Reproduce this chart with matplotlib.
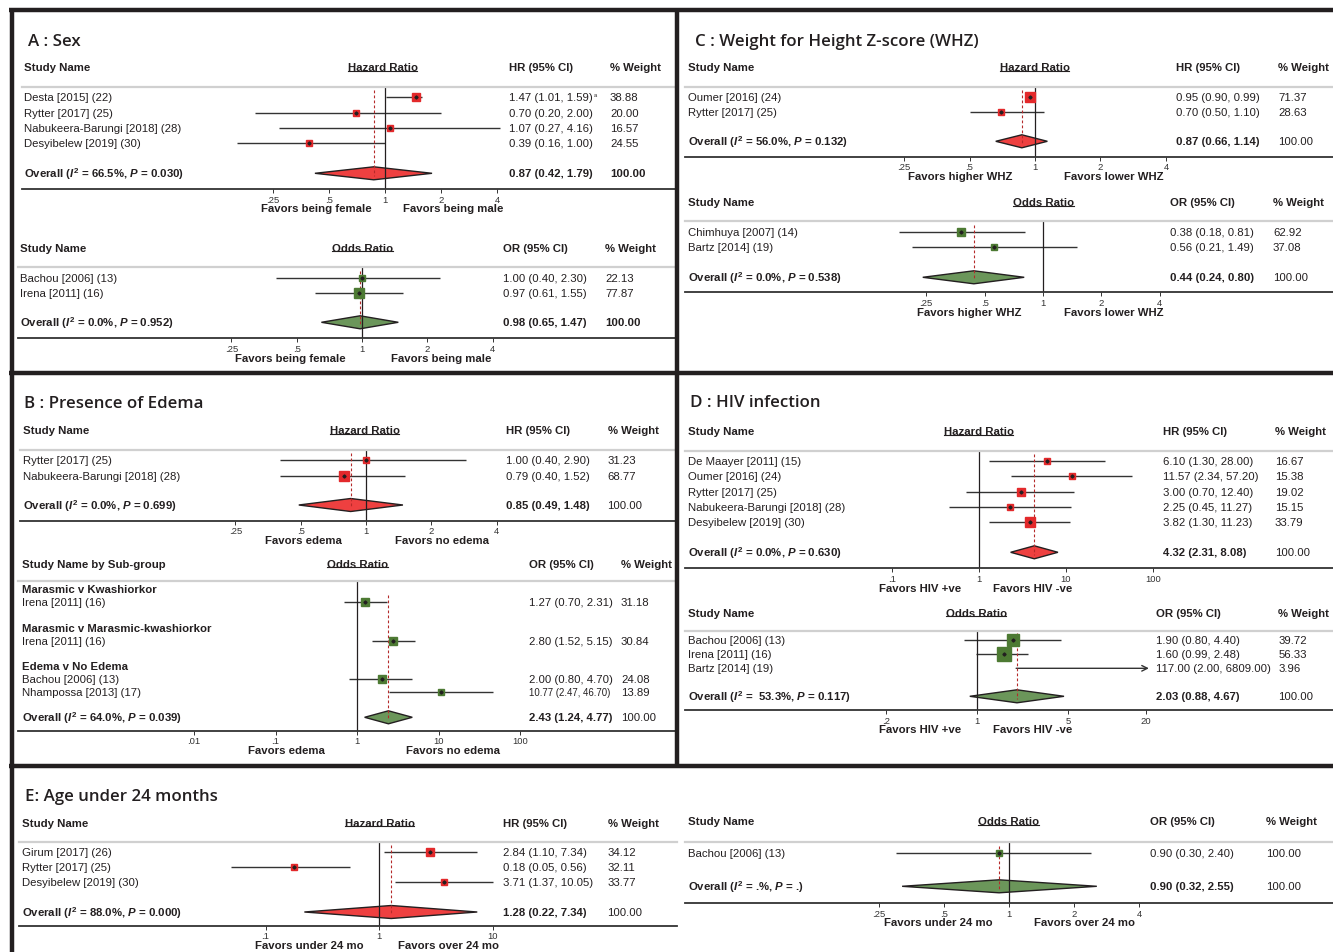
import numpy as np
import matplotlib
matplotlib.use('Agg')
import matplotlib.pyplot as plt
import matplotlib.ticker as mticker
from matplotlib import font_manager
from matplotlib.lines import Line2D
from matplotlib.patches import Polygon

W, H = 1333, 953

# ---------------- data ----------------
# A: Sex
a_hr_names = ['Desta [2015] (22)', 'Rytter [2017] (25)', 'Nabukeera-Barungi [2018] (28)', 'Desyibelew [2019] (30)']
a_hr_est = [1.47, 0.70, 1.07, 0.39]
a_hr_lo = [1.01, 0.20, 0.27, 0.16]
a_hr_hi = [1.59, 2.00, 4.16, 1.00]
a_hr_wt = [38.88, 20.00, 16.57, 24.55]
a_hr_overall = (0.87, 0.42, 1.79)
a_hr_het = ('66.5', '0.030')

a_or_names = ['Bachou [2006] (13)', 'Irena [2011] (16)']
a_or_est = [1.00, 0.97]
a_or_lo = [0.40, 0.61]
a_or_hi = [2.30, 1.55]
a_or_wt = [22.13, 77.87]
a_or_overall = (0.98, 0.65, 1.47)
a_or_het = ('0.0', '0.952')

# C: WHZ
c_hr_names = ['Oumer [2016] (24)', 'Rytter [2017] (25)']
c_hr_est = [0.95, 0.70]
c_hr_lo = [0.90, 0.50]
c_hr_hi = [0.99, 1.10]
c_hr_wt = [71.37, 28.63]
c_hr_overall = (0.87, 0.66, 1.14)
c_hr_het = ('56.0', '0.132')

c_or_names = ['Chimhuya [2007] (14)', 'Bartz [2014] (19)']
c_or_est = [0.38, 0.56]
c_or_lo = [0.18, 0.21]
c_or_hi = [0.81, 1.49]
c_or_wt = [62.92, 37.08]
c_or_overall = (0.44, 0.24, 0.80)
c_or_het = ('0.0', '0.538')

# B: Edema
b_hr_names = ['Rytter [2017] (25)', 'Nabukeera-Barungi [2018] (28)']
b_hr_est = [1.00, 0.79]
b_hr_lo = [0.40, 0.40]
b_hr_hi = [2.90, 1.52]
b_hr_wt = [31.23, 68.77]
b_hr_overall = (0.85, 0.49, 1.48)
b_hr_het = ('0.0', '0.699')

b_or_groups = ['Marasmic v Kwashiorkor', 'Marasmic v Marasmic-kwashiorkor', 'Edema v No Edema']
b_or_names = ['Irena [2011] (16)', 'Irena [2011] (16)', 'Bachou [2006] (13)', 'Nhampossa [2013] (17)']
b_or_est = [1.27, 2.80, 2.00, 10.77]
b_or_lo = [0.70, 1.52, 0.80, 2.47]
b_or_hi = [2.31, 5.15, 4.70, 46.70]
b_or_wt = [31.18, 30.84, 24.08, 13.89]
b_or_overall = (2.43, 1.24, 4.77)
b_or_het = ('64.0', '0.039')

# D: HIV
d_hr_names = ['De Maayer [2011] (15)', 'Oumer [2016] (24)', 'Rytter [2017] (25)',
              'Nabukeera-Barungi [2018] (28)', 'Desyibelew [2019] (30)']
d_hr_est = [6.10, 11.57, 3.00, 2.25, 3.82]
d_hr_lo = [1.30, 2.34, 0.70, 0.45, 1.30]
d_hr_hi = [28.00, 57.20, 12.40, 11.27, 11.23]
d_hr_wt = [16.67, 15.38, 19.02, 15.15, 33.79]
d_hr_overall = (4.32, 2.31, 8.08)
d_hr_het = ('0.0', '0.630')

d_or_names = ['Bachou [2006] (13)', 'Irena [2011] (16)', 'Bartz [2014] (19)']
d_or_est = [1.90, 1.60, 117.00]
d_or_lo = [0.80, 0.99, 2.00]
d_or_hi = [4.40, 2.48, 6809.00]
d_or_wt = [39.72, 56.33, 3.96]
d_or_overall = (2.03, 0.88, 4.67)
d_or_het = (' 53.3', '0.117')

# E: Age under 24 months
e_hr_names = ['Girum [2017] (26)', 'Rytter [2017] (25)', 'Desyibelew [2019] (30)']
e_hr_est = [2.84, 0.18, 3.71]
e_hr_lo = [1.10, 0.05, 1.37]
e_hr_hi = [7.34, 0.56, 10.05]
e_hr_wt = [34.12, 32.11, 33.77]
e_hr_overall = (1.28, 0.22, 7.34)
e_hr_het = ('88.0', '0.000')

e_or_names = ['Bachou [2006] (13)']
e_or_est = [0.90]
e_or_lo = [0.30]
e_or_hi = [2.40]
e_or_wt = [100.00]
e_or_overall = (0.90, 0.32, 2.55)
e_or_het = ('.', '.')

ticks_2 = [0.25, 0.5, 1, 2, 4]
labels_2 = ['.25', '.5', '1', '2', '4']
ticks_10 = [0.01, 0.1, 1, 10, 100]
labels_10 = ['.01', '.1', '1', '10', '100']
ticks_d = [0.1, 1, 10, 100]
labels_d = ['.1', '1', '10', '100']
ticks_d2 = [0.2, 1, 5, 20]
labels_d2 = ['.2', '1', '5', '20']
ticks_e = [0.1, 1, 10]
labels_e = ['.1', '1', '10']

# ---------------- style ----------------
have = {f.name for f in font_manager.fontManager.ttflist}
BODY = 'Liberation Sans Narrow' if 'Liberation Sans Narrow' in have else 'Liberation Sans'
FS = 10 if BODY == 'Liberation Sans Narrow' else 8.2

plt.rcParams['font.family'] = [BODY, 'DejaVu Sans']
plt.rcParams['mathtext.fontset'] = 'custom'
plt.rcParams['mathtext.it'] = BODY + ':italic:bold'
plt.rcParams['mathtext.rm'] = BODY + ':bold'

INK = '#231f20'
RED, RED_D = '#e3292b', '#ee4040'
GREEN, GREEN_D = '#4d7a33', '#6b965a'

fig = plt.figure(figsize=(W / 100, H / 100), dpi=100)
fig.patch.set_facecolor('white')
R = fig.canvas.get_renderer()


def fy(y):
    return 1 - y / H


def put(x, y, s, **kw):
    kw.setdefault('va', 'center')
    kw.setdefault('fontsize', FS)
    kw.setdefault('color', INK)
    return fig.text(x / W, fy(y), s, **kw)


def hline(x0, x1, y, **kw):
    fig.add_artist(Line2D([x0 / W, x1 / W], [fy(y), fy(y)], **kw))


def vline(x, y0, y1, **kw):
    fig.add_artist(Line2D([x / W, x / W], [fy(y0), fy(y1)], **kw))


def forest(L, names, est, lo, hi, wt, overall, het, measure, fav, ticks, tlabels,
           color, dcolor, groups=None, notes=None, bold_total=False, small_ci=()):
    x0, x1 = L['span']
    hy = L['head_y']
    put(L['name_x'], hy, 'Study Name' if groups is None else 'Study Name by Sub-group', fontweight='bold')
    t = put(L['mid_x'], hy, 'Hazard Ratio' if measure == 'HR' else 'Odds Ratio',
            ha='center', fontweight='bold')
    bb = t.get_window_extent(renderer=R)
    fig.add_artist(Line2D([bb.x0 / W, (bb.x1 - 1) / W], [(bb.y0 + 1.8) / H] * 2, color=INK, lw=0.8))
    put(L['ci_x'], hy, f'{measure} (95% CI)', fontweight='bold')
    put(L['w_x'], hy, '% Weight', fontweight='bold')
    hline(x0, x1, L['sep_y'], color='#d0d0d0', lw=1.6)
    hline(x0, x1, L['axis_y'], color='#333333', lw=1.3)

    one, ppd = L['one_x'], L['ppd']
    xa, xb = L['xlim']
    left = one + ppd * np.log10(xa)
    right = one + ppd * np.log10(xb)
    ax = fig.add_axes([left / W, fy(L['axis_y']), (right - left) / W, (L['axis_y'] - L['sep_y']) / H])
    ax.set_xscale('log')
    ax.set_xlim(xa, xb)
    ax.set_ylim(L['axis_y'], L['sep_y'])
    ax.patch.set_visible(False)
    for s in ax.spines.values():
        s.set_visible(False)
    ax.set_yticks([])
    ax.set_xticks(ticks)
    ax.set_xticklabels(tlabels)
    ax.xaxis.set_minor_locator(mticker.NullLocator())
    ax.tick_params(axis='x', length=3, width=0.7, color='#333333', labelsize=6.8,
                   labelcolor='#333333', pad=1.0)

    rows = L['rows']
    ov, olo, ohi = overall
    oy = L['ov_y']
    ax.axvline(1, color=INK, lw=0.9, zorder=3)
    ax.plot([ov, ov], [rows[0] - 7, oy + 3], color='#b52a2a', lw=0.8, ls=(0, (2.5, 2)), zorder=4)

    if groups is not None:
        for g, gy in zip(groups, L['group_rows']):
            put(L['name_x'], gy, g, fontweight='bold')

    for i, (n, e, l, h, w) in enumerate(zip(names, est, lo, hi, wt)):
        y = rows[i]
        if h > xb:
            ax.annotate('', xy=(xb, y), xytext=(l, y),
                        arrowprops=dict(arrowstyle='->', color='#333333', lw=1.0,
                                        shrinkA=0, shrinkB=0))
        else:
            ax.plot([l, h], [y, y], color='#333333', lw=1.0, zorder=2, solid_capstyle='butt')
        side = L['box_k'] * np.sqrt(w)
        ax.plot(e, y, marker='s', ms=side * 0.72, color=color, mec=color, zorder=5)
        ax.plot(e, y, marker='D', ms=1.6, color=INK, zorder=6)
        put(L['name_x'], y, n)
        ct = put(L['ci_x'], y, f'{e:.2f} ({l:.2f}, {h:.2f})',
                 fontsize=FS * (0.85 if i in small_ci else 1))
        if notes and i in notes:
            cb = ct.get_window_extent(renderer=R)
            put(cb.x1 + 1, y - 3, notes[i], fontsize=FS * 0.5)
        put(L['w_x'], y, f'{w:.2f}')

    ax.add_patch(Polygon([[olo, oy], [ov, oy - 6.5], [ohi, oy], [ov, oy + 6.5]], closed=True,
                         fc=dcolor, ec=INK, lw=1.0, zorder=2.5, clip_on=False))
    put(L['name_x'], oy, f'Overall ($I^2$ = {het[0]}%, $P$ = {het[1]})', fontweight='bold')
    put(L['ci_x'], oy, f'{ov:.2f} ({olo:.2f}, {ohi:.2f})', fontweight='bold')
    put(L['w_x'], oy, '100.00', fontweight='bold' if bold_total else 'normal')

    put(L['fav_x'][0], L['axis_y'] + 19.5, fav[0], ha='center', fontweight='bold')
    put(L['fav_x'][1], L['axis_y'] + 19.5, fav[1], ha='center', fontweight='bold')


# ---------------- layout ----------------
LA1 = dict(span=(22, 677), head_y=68.3, sep_y=87.7, rows=[98.3, 114.3, 129, 144.3], ov_y=174.3,
           axis_y=190, one_x=385, ppd=186, xlim=(0.14, 4.3), name_x=24, mid_x=383, ci_x=509,
           w_x=610, fav_x=(316, 453), box_k=1.35)
LA2 = dict(span=(18, 677), head_y=249, sep_y=268, rows=[279, 294.3], ov_y=323.3,
           axis_y=339.3, one_x=362, ppd=217, xlim=(0.24, 4.1), name_x=20.5, mid_x=363, ci_x=503,
           w_x=605, fav_x=(290.5, 441), box_k=1.2)
LC1 = dict(span=(685, 1333), head_y=68.3, sep_y=87.7, rows=[98.3, 113.3], ov_y=142.3,
           axis_y=157.7, one_x=1035, ppd=217.5, xlim=(0.24, 4.1), name_x=688, mid_x=1035, ci_x=1176,
           w_x=1278, fav_x=(960.5, 1113.5), box_k=1.15)
LC2 = dict(span=(685, 1333), head_y=203.3, sep_y=222.3, rows=[233.3, 248.3], ov_y=278.3,
           axis_y=293.3, one_x=1043, ppd=194, xlim=(0.16, 4.1), name_x=688, mid_x=1044, ci_x=1170,
           w_x=1273, fav_x=(969.5, 1113.5), box_k=1.05)
LB1 = dict(span=(20, 677), head_y=431.3, sep_y=451, rows=[461.3, 476.7], ov_y=506,
           axis_y=521.7, one_x=366, ppd=217, xlim=(0.24, 4.1), name_x=23, mid_x=365, ci_x=506,
           w_x=607.5, fav_x=(303, 442), box_k=1.2)
LB2 = dict(span=(18, 677), head_y=565, sep_y=581.7, rows=[603.3, 642.3, 680.3, 693.3],
           group_rows=[590, 629.3, 667], ov_y=718.3, axis_y=731.7, one_x=357, ppd=81.5,
           xlim=(0.0095, 105), name_x=22, mid_x=358, ci_x=529, w_x=621, fav_x=(286.5, 453.5),
           box_k=1.6)
LD1 = dict(span=(685, 1333), head_y=432.3, sep_y=451.7,
           rows=[462.3, 477.3, 493.3, 508.3, 523.3], ov_y=553.3, axis_y=569, one_x=979, ppd=87,
           xlim=(0.095, 105), name_x=688, mid_x=979.5, ci_x=1163, w_x=1275, fav_x=(920, 1032.5),
           box_k=1.62)
LD2 = dict(span=(685, 1333), head_y=614, sep_y=631.7, rows=[641, 655.3, 669.3], ov_y=697.3,
           axis_y=711, one_x=977, ppd=130, xlim=(0.19, 21), name_x=688, mid_x=976.5, ci_x=1155.5,
           w_x=1278.5, fav_x=(920, 1033), box_k=1.95)
LE1 = dict(span=(19, 677), head_y=824, sep_y=842.7, rows=[853.3, 868.3, 883.3], ov_y=913,
           axis_y=926.7, one_x=379, ppd=113.5, xlim=(0.045, 11), name_x=22, mid_x=380, ci_x=503,
           w_x=607.5, fav_x=(309, 449), box_k=1.2)
LE2 = dict(span=(685, 1333), head_y=822.3, sep_y=842.7, rows=[854.3], ov_y=887.3,
           axis_y=904, one_x=1009, ppd=216, xlim=(0.24, 4.1), name_x=688, mid_x=1009, ci_x=1150.5,
           w_x=1266.5, fav_x=(938, 1085), box_k=0.67)

# ---------------- draw ----------------
forest(LA1, a_hr_names, a_hr_est, a_hr_lo, a_hr_hi, a_hr_wt, a_hr_overall, a_hr_het, 'HR',
       ('Favors being female', 'Favors being male'), ticks_2, labels_2, RED, RED_D,
       notes={0: 'a'}, bold_total=True)
forest(LA2, a_or_names, a_or_est, a_or_lo, a_or_hi, a_or_wt, a_or_overall, a_or_het, 'OR',
       ('Favors being female', 'Favors being male'), ticks_2, labels_2, GREEN, GREEN_D,
       bold_total=True)
forest(LC1, c_hr_names, c_hr_est, c_hr_lo, c_hr_hi, c_hr_wt, c_hr_overall, c_hr_het, 'HR',
       ('Favors higher WHZ', 'Favors lower WHZ'), ticks_2, labels_2, RED, RED_D)
forest(LC2, c_or_names, c_or_est, c_or_lo, c_or_hi, c_or_wt, c_or_overall, c_or_het, 'OR',
       ('Favors higher WHZ', 'Favors lower WHZ'), ticks_2, labels_2, GREEN, GREEN_D)
forest(LB1, b_hr_names, b_hr_est, b_hr_lo, b_hr_hi, b_hr_wt, b_hr_overall, b_hr_het, 'HR',
       ('Favors edema', 'Favors no edema'), ticks_2, labels_2, RED, RED_D)
forest(LB2, b_or_names, b_or_est, b_or_lo, b_or_hi, b_or_wt, b_or_overall, b_or_het, 'OR',
       ('Favors edema', 'Favors no edema'), ticks_10, labels_10, GREEN, GREEN_D,
       groups=b_or_groups, small_ci=(3,))
forest(LD1, d_hr_names, d_hr_est, d_hr_lo, d_hr_hi, d_hr_wt, d_hr_overall, d_hr_het, 'HR',
       ('Favors HIV +ve', 'Favors HIV -ve'), ticks_d, labels_d, RED, RED_D)
forest(LD2, d_or_names, d_or_est, d_or_lo, d_or_hi, d_or_wt, d_or_overall, d_or_het, 'OR',
       ('Favors HIV +ve', 'Favors HIV -ve'), ticks_d2, labels_d2, GREEN, GREEN_D)
forest(LE1, e_hr_names, e_hr_est, e_hr_lo, e_hr_hi, e_hr_wt, e_hr_overall, e_hr_het, 'HR',
       ('Favors under 24 mo', 'Favors over 24 mo'), ticks_e, labels_e, RED, RED_D)
forest(LE2, e_or_names, e_or_est, e_or_lo, e_or_hi, e_or_wt, e_or_overall, e_or_het, 'OR',
       ('Favors under 24 mo', 'Favors over 24 mo'), ticks_2, labels_2, GREEN, GREEN_D)

# panel titles
title_kw = dict(family=['Open Sans', 'DejaVu Sans'], fontweight='semibold', fontsize=12.2, color=INK)
put(28, 41.7, 'A : Sex', **title_kw)
put(695, 41.7, 'C : Weight for Height Z-score (WHZ)', **title_kw)
put(24, 404, 'B : Presence of Edema', **title_kw)
put(690, 403.3, 'D : HIV infection', **title_kw)
put(25, 797.3, 'E: Age under 24 months', **title_kw)

# panel frames
frame = dict(color=INK, lw=3.2, solid_capstyle='butt')
hline(9, 1333, 11.2, **frame)
vline(11.5, 9, 953, **frame)
vline(677.3, 9, 769, **frame)
hline(9, 1333, 374, **frame)
hline(9, 1333, 766.7, **frame)

fig.savefig('out.png', dpi=100)
